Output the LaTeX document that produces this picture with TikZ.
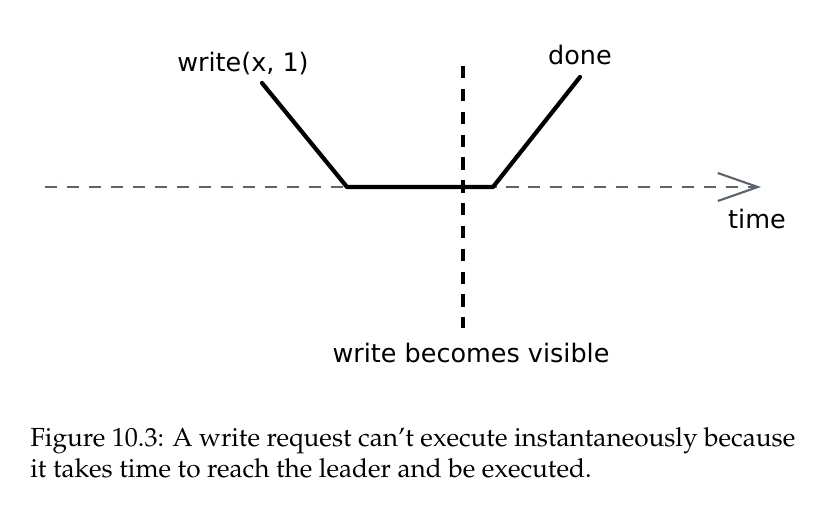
\documentclass[tikz,border=0pt]{standalone}
\usepackage[T1]{fontenc}
\usepackage{fontspec}
\usepackage{tikz}
\usetikzlibrary{arrows.meta}
\newfontfamily\handfont{DejaVu Sans}
\newcommand{\capfont}{\fontencoding{T1}\fontfamily{ppl}\selectfont}
\definecolor{axisgray}{HTML}{5C636B}
\tikzset{
  hand/.style={font=\handfont\fontsize{14.5}{16}\selectfont, inner sep=1pt},
  caption/.style={font=\capfont\fontsize{14.9}{17}\selectfont, anchor=base west, inner sep=0pt},
  request/.style={line width=2.4pt, line join=round, line cap=round}
}
\begin{document}
\begin{tikzpicture}[x=0.02cm, y=-0.02cm]
\useasboundingbox (0,0) rectangle (835,514);
\node[hand](wlabel) at (243,63){write(x, 1)};
\node[hand](done) at (580,55){done};
\node[hand](time) at (757,219){time};
\node[hand](visible) at (471,353){write becomes visible};
\coordinate (t0) at (45,187);
\coordinate (t1) at (761,187);
\coordinate (v0) at (463,66);
\coordinate (v1) at (463,328);
\coordinate (ws) at (262,83);
\coordinate (wb) at (347,187);
\coordinate (de) at (493,187);
\coordinate (dt) at (580,77);
\draw[axisgray, line width=1.1pt, dash pattern=on 7pt off 5.5pt,
  -{Straight Barb[length=0.8cm, width=0.56cm, line width=1.2pt]}] (t0) -- (t1);
\draw[line width=1.8pt, dash pattern=on 7pt off 6pt] (v0) -- (v1);
\draw[request] (ws) -- (wb) -- (de) -- (dt);
\node[caption](cap1) at (30,446){Figure 10.3: A write request can't execute instantaneously because};
\node[caption](cap2) at (30,477){it takes time to reach the leader and be executed.};
\end{tikzpicture}
\end{document}
